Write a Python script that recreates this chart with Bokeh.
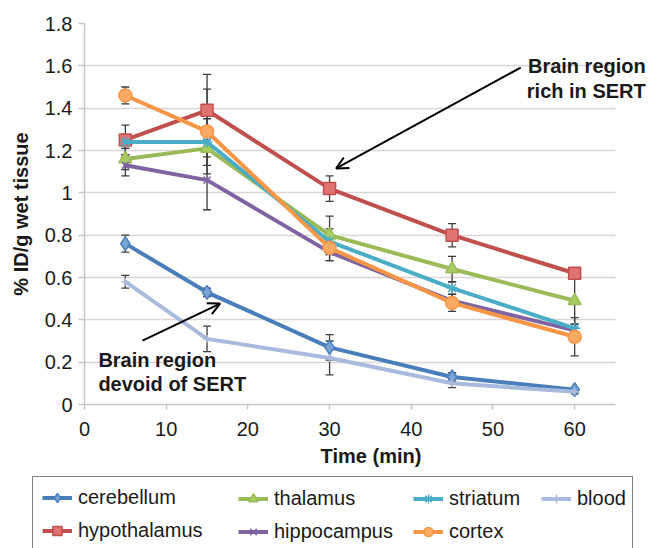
from bokeh.plotting import figure
from bokeh.models import (ColumnDataSource, Whisker, TeeHead, Arrow, OpenHead, Label,
                          Legend, LegendItem, FixedTicker, Range1d)
from bokeh.embed import file_html
from bokeh.resources import INLINE

# ---- data -------------------------------------------------------------
times = [5, 15, 30, 45, 60]

cerebellum = [0.76, 0.53, 0.27, 0.13, 0.07]
hypothalamus = [1.25, 1.39, 1.02, 0.80, 0.62]
thalamus = [1.16, 1.21, 0.80, 0.64, 0.49]
hippocampus = [1.13, 1.06, 0.72, 0.49, 0.35]
striatum = [1.24, 1.24, 0.77, 0.55, 0.36]
cortex = [1.46, 1.29, 0.74, 0.48, 0.32]
blood = [0.58, 0.31, 0.22, 0.10, 0.06]

cerebellum_err = [0.04, 0.02, 0.06, 0.02, 0.01]
hypothalamus_err = [0.07, 0.17, 0.06, 0.055, 0.01]
thalamus_err = [0.05, 0.04, 0.09, 0.06, 0.13]
hippocampus_err = [0.05, 0.14, 0.04, 0.03, 0.03]
striatum_err = [0.03, 0.11, 0.06, 0.03, 0.02]
cortex_err = [0.04, 0.20, 0.06, 0.04, 0.09]
blood_err = [0.03, 0.06, 0.08, 0.02, 0.01]

x_ticks = [0, 10, 20, 30, 40, 50, 60]
y_ticks = [0, 0.2, 0.4, 0.6, 0.8, 1, 1.2, 1.4, 1.6, 1.8]
y_tick_labels = ["0", "0.2", "0.4", "0.6", "0.8", "1", "1.2", "1.4", "1.6", "1.8"]

# name, values, errors, line colour, marker fill, marker, marker size
series = [
    ("cerebellum", cerebellum, cerebellum_err, "#4a7ebb", "#7aa3d6", "diamond", 14),
    ("hypothalamus", hypothalamus, hypothalamus_err, "#c0504d", "#e07370", "square", 12),
    ("thalamus", thalamus, thalamus_err, "#9bbb59", "#a9cc62", "triangle", 13),
    ("hippocampus", hippocampus, hippocampus_err, "#8064a2", "#9a80bb", "x", 10),
    ("striatum", striatum, striatum_err, "#4bacc6", "#6cc3da", "asterisk", 11),
    ("cortex", cortex, cortex_err, "#f79646", "#f9ab63", "circle", 13),
    ("blood", blood, blood_err, "#a9bbdd", "#c3d0ea", "cross", 8),
]

FONT = "Liberation Sans"
TEXT = "#1a1a1a"
ERR = "#3c3c3c"

# ---- main chart ---------------------------------------------------------
# the frame runs a little past x = 65 so the upper callout has room;
# the axis line and grid lines stop at 65
p = figure(width=657, height=476, x_range=Range1d(0, 70.14), y_range=Range1d(0, 1.8),
           min_border_left=84, min_border_right=0, min_border_top=23,
           min_border_bottom=72, output_backend="svg", toolbar_location=None)
p.outline_line_color = None
p.background_fill_color = "white"
p.border_fill_color = "white"

p.xaxis.ticker = FixedTicker(ticks=x_ticks)
p.yaxis.ticker = FixedTicker(ticks=y_ticks)
p.yaxis.major_label_overrides = dict(zip(y_ticks, y_tick_labels))
p.xaxis.bounds = (0, 65)
for ax in (p.xaxis, p.yaxis):
    ax.axis_line_color = "#c9c4c4"
    ax.axis_line_width = 1.5
    ax.major_tick_line_color = "#c9c4c4"
    ax.major_tick_line_width = 1.5
    ax.major_tick_in = 0
    ax.minor_tick_line_color = None
    ax.major_label_text_font = FONT
    ax.major_label_text_font_size = "20px"
    ax.major_label_text_color = TEXT
    ax.axis_label_text_font = FONT
    ax.axis_label_text_font_size = "20px"
    ax.axis_label_text_font_style = "bold"
    ax.axis_label_text_color = TEXT
p.yaxis.major_tick_out = 6
p.xaxis.major_tick_out = 5
p.yaxis.major_label_standoff = 6
p.xaxis.major_label_standoff = 12
p.xaxis.axis_label = "Time (min)"
p.yaxis.axis_label = "% ID/g wet tissue"
p.xaxis.axis_label_standoff = 6
p.yaxis.axis_label_standoff = 10

p.xgrid.grid_line_color = None
p.ygrid.grid_line_color = "#dad4d4"
p.ygrid.grid_line_width = 1.5
p.ygrid.cross_bounds = (0, 65)

sources = {}
for name, vals, errs, col, fill, marker, size in series:
    src = ColumnDataSource(dict(
        x=times, y=vals,
        upper=[v + e for v, e in zip(vals, errs)],
        lower=[v - e for v, e in zip(vals, errs)],
    ))
    sources[name] = src
    p.line("x", "y", source=src, line_color=col, line_width=4,
           line_join="round", line_cap="round")
    p.scatter("x", "y", source=src, marker=marker, size=size,
              fill_color=fill, line_color=col, line_width=1.5)
    p.add_layout(Whisker(source=src, base="x", upper="upper", lower="lower",
                         line_color=ERR, line_width=1.3,
                         upper_head=TeeHead(size=8, line_color=ERR, line_width=1.3),
                         lower_head=TeeHead(size=8, line_color=ERR, line_width=1.3)))

# callouts
p.add_layout(Arrow(end=OpenHead(size=12, line_width=2, line_color="black"),
                   x_start=53.4, y_start=1.592, x_end=30.8, y_end=1.115,
                   line_width=2, line_color="black"))
p.add_layout(Arrow(end=OpenHead(size=12, line_width=2, line_color="black"),
                   x_start=7.1, y_start=0.302, x_end=16.6, y_end=0.477,
                   line_width=2, line_color="black"))
for txt, x, y, align in [("Brain region", 68.7, 1.601, "right"),
                         ("rich in SERT", 68.7, 1.483, "right"),
                         ("Brain region", 1.7, 0.208, "left"),
                         ("devoid of SERT", 1.7, 0.099, "left")]:
    p.add_layout(Label(x=x, y=y, text=txt, text_align=align, text_baseline="middle",
                       text_font=FONT, text_font_size="20px", text_font_style="bold",
                       text_color=TEXT))

# ---- legend strip ---------------------------------------------------------
# a separate canvas under the chart; its ranges keep the series themselves
# out of view so only the legend swatches show
LH = 72
leg_fig = figure(width=657, height=LH, x_range=Range1d(-2, -1), y_range=Range1d(-2, -1),
                 min_border=0, x_axis_location=None, y_axis_location=None,
                 output_backend="svg", toolbar_location=None)
leg_fig.outline_line_color = None
leg_fig.grid.visible = False
leg_fig.background_fill_color = "white"
leg_fig.border_fill_color = "white"

items = {}
for name, vals, errs, col, fill, marker, size in series:
    lr = leg_fig.line("x", "y", source=sources[name], line_color=col, line_width=4)
    sr = leg_fig.scatter("x", "y", source=sources[name], marker=marker, size=size,
                         fill_color=fill, line_color=col, line_width=1.5)
    items[name] = LegendItem(label=name, renderers=[lr, sr])

pad, row_h, gap, glyph_w, standoff = 9, 23, 10, 30, 6
box_top = 2
columns = [
    (41, ["cerebellum", "hypothalamus"]),
    (238, ["thalamus", "hippocampus"]),
    (413, ["striatum", "cortex"]),
    (541, ["blood"]),
]
for i, (cx, names) in enumerate(columns):
    n = len(names)
    height = 2 * pad + n * row_h + (n - 1) * gap
    leg = Legend(items=[items[nm] for nm in names],
                 location=(cx - pad, LH - (box_top + height)),
                 orientation="vertical", padding=pad, margin=0, spacing=gap,
                 glyph_width=glyph_w, glyph_height=row_h, label_height=row_h,
                 label_standoff=standoff, label_text_font=FONT,
                 label_text_font_size="20px", label_text_color=TEXT)
    if i == 0:
        leg.label_width = 599 - 2 * pad - glyph_w - standoff
        leg.border_line_color = "black"
        leg.border_line_width = 1.2
        leg.background_fill_color = "white"
        leg.background_fill_alpha = 1.0
    else:
        leg.border_line_alpha = 0
        leg.background_fill_alpha = 0
    leg_fig.add_layout(leg)

open("out.html", "w").write(file_html([p, leg_fig], INLINE))
